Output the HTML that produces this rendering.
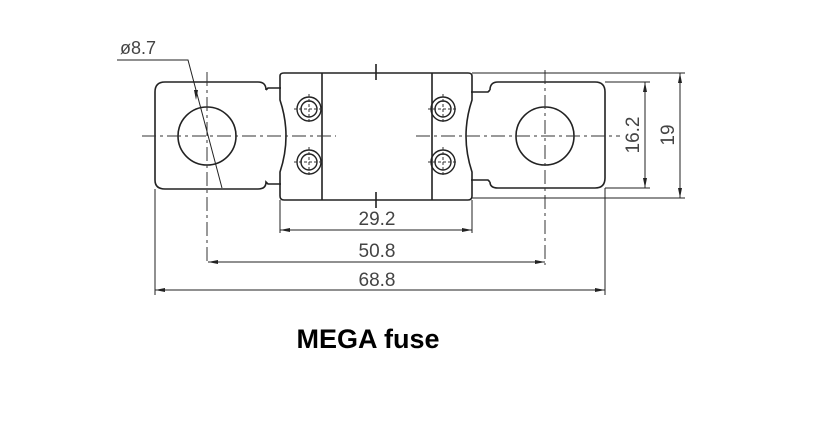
<!DOCTYPE html>
<html><head><style>body{margin:0;background:#fff}svg{display:block}</style></head><body>
<svg width="839" height="421" viewBox="0 0 839 421" xmlns="http://www.w3.org/2000/svg" font-family="Liberation Sans, DejaVu Sans, sans-serif">
<g fill="none" stroke="#222" stroke-width="1.6">
<!-- left tab -->
<path d="M266 90 Q266 82 258 82 L165 82 Q155 82 155 92 L155 180 Q155 189 165 189 L258 189 Q266 189 266 182 L268 184 L281 184 M266 90 L268 88 L281 88"/>
<!-- right tab -->
<path d="M490 90 Q490 82 498 82 L595 82 Q605 82 605 92 L605 178 Q605 188 595 188 L498 188 Q490 188 490 182 M490 90 L488 92 L471 92 M490 182 L488 180 L471 180"/>
<!-- body -->
<path d="M280 76 Q280 73 284 73 L468 73 Q472 73 472 76 L472 100 Q460 136 472 172 L472 196 Q472 200 468 200 L284 200 Q280 200 280 196 L280 172 Q292 136 280 100 Z"/>
<line x1="322" y1="73" x2="322" y2="200"/>
<line x1="432" y1="73" x2="432" y2="200"/>
<line x1="376" y1="64" x2="376" y2="80"/>
<line x1="376" y1="192" x2="376" y2="208"/>
<!-- holes -->
<circle cx="207" cy="136" r="29"/>
<circle cx="545" cy="136" r="29"/>
<!-- screws -->
<g stroke-width="1.4">
<circle cx="309" cy="109" r="12"/><circle cx="309" cy="109" r="8"/>
<circle cx="309" cy="162" r="12"/><circle cx="309" cy="162" r="8"/>
<circle cx="443" cy="109" r="12"/><circle cx="443" cy="109" r="8"/>
<circle cx="443" cy="162" r="12"/><circle cx="443" cy="162" r="8"/>
</g>
</g>
<!-- center lines -->
<g stroke="#333" stroke-width="1" fill="none" stroke-dasharray="14,4,3,4">
<line x1="142" y1="136" x2="336" y2="136"/>
<line x1="416" y1="136" x2="620" y2="136"/>
<line x1="207" y1="72" x2="207" y2="265"/>
<line x1="545" y1="70" x2="545" y2="265"/>
</g>
<g stroke="#333" stroke-width="1" fill="none" stroke-dasharray="3,2">
<line x1="294" y1="109" x2="324" y2="109"/><line x1="294" y1="162" x2="324" y2="162"/>
<line x1="428" y1="109" x2="458" y2="109"/><line x1="428" y1="162" x2="458" y2="162"/>
<line x1="309" y1="94" x2="309" y2="124"/><line x1="309" y1="147" x2="309" y2="177"/>
<line x1="443" y1="94" x2="443" y2="124"/><line x1="443" y1="147" x2="443" y2="177"/>
</g>
<!-- dimensions -->
<g stroke="#222" stroke-width="1" fill="none">
<line x1="155" y1="189" x2="155" y2="295"/>
<line x1="605" y1="188" x2="605" y2="295"/>
<line x1="280" y1="200" x2="280" y2="233"/>
<line x1="472" y1="200" x2="472" y2="233"/>
<line x1="155" y1="290" x2="605" y2="290"/>
<line x1="208" y1="262" x2="545" y2="262"/>
<line x1="280" y1="230" x2="472" y2="230"/>
<line x1="605" y1="82" x2="650" y2="82"/>
<line x1="605" y1="188" x2="650" y2="188"/>
<line x1="472" y1="73" x2="685" y2="73"/>
<line x1="472" y1="198" x2="685" y2="198"/>
<line x1="645" y1="82" x2="645" y2="188"/>
<line x1="680" y1="73" x2="680" y2="198"/>
<path d="M117 60 L188 60 L222 188"/>
</g>
<g fill="#222">
<path d="M155 290 l10 -2 v4z M605 290 l-10 -2 v4z"/>
<path d="M208 262 l10 -2 v4z M545 262 l-10 -2 v4z"/>
<path d="M280 230 l10 -2 v4z M472 230 l-10 -2 v4z"/>
<path d="M645 82 l-2 10 h4z M645 188 l-2 -10 h4z"/>
<path d="M680 73 l-2 10 h4z M680 198 l-2 -10 h4z"/>
<path d="M196 100 l-2 -10 l4 0z"/>
</g>
<g fill="#444" font-size="19" text-anchor="middle">
<text x="377" y="225">29.2</text>
<text x="377" y="257">50.8</text>
<text x="377" y="286">68.8</text>
<text x="138" y="54" font-size="18">ø8.7</text>
<text transform="translate(639,135) rotate(-90)">16.2</text>
<text transform="translate(674,135) rotate(-90)">19</text>
</g>
<text x="368" y="348" text-anchor="middle" font-size="27" font-weight="bold" fill="#000">MEGA fuse</text>
</svg>
</body></html>
